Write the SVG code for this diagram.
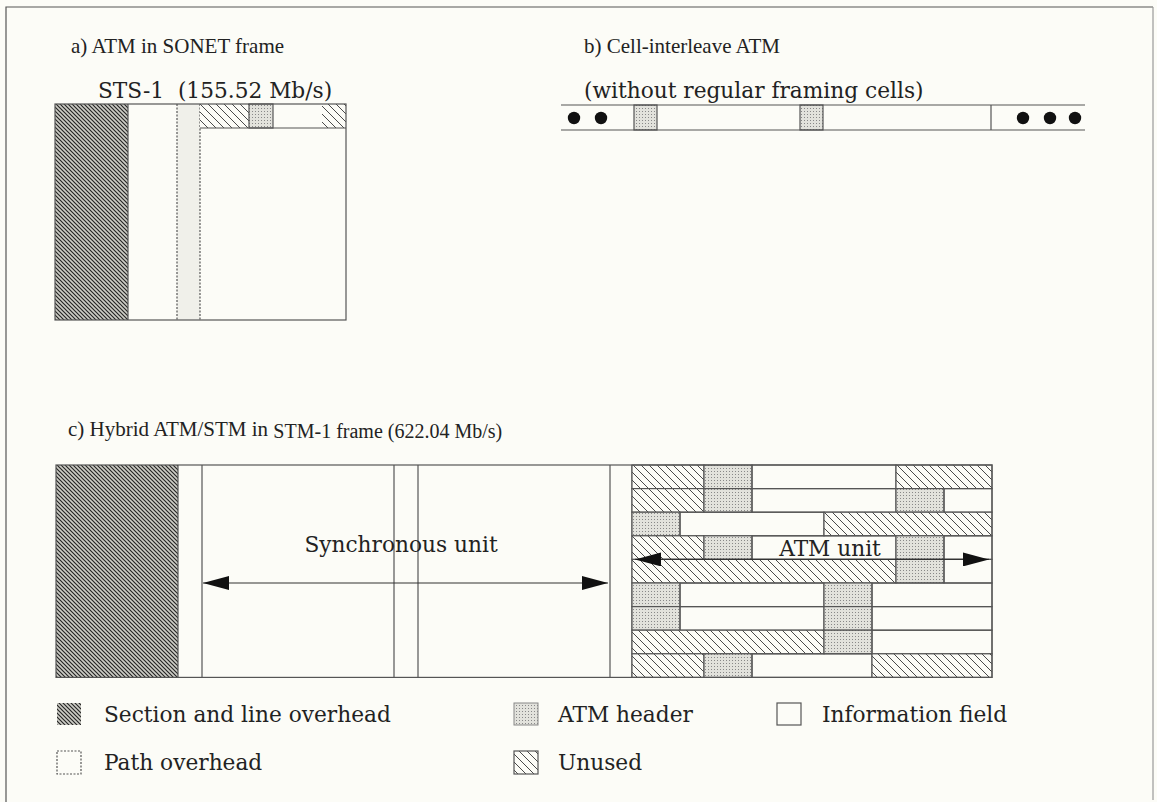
<svg xmlns="http://www.w3.org/2000/svg" width="1157" height="802" viewBox="0 0 1157 802">
<defs>
  <pattern id="sec" width="4" height="4" patternUnits="userSpaceOnUse">
    <rect width="4" height="4" fill="#cdcdc6"/>
    <path d="M0,0 L4,4 M-1,3 L1,5 M3,-1 L5,1" stroke="#242424" stroke-width="1.15"/>
  </pattern>
  <pattern id="unused" width="8" height="8" patternUnits="userSpaceOnUse">
    <rect width="8" height="8" fill="#fcfcf7"/>
    <path d="M0,0 L8,8 M-2,6 L2,10 M6,-2 L10,2" stroke="#4a4a4a" stroke-width="1"/>
  </pattern>
  <pattern id="hdr" width="3" height="3" patternUnits="userSpaceOnUse">
    <rect width="3" height="3" fill="#e2e2dc"/>
    <rect x="0" y="0" width="1" height="1" fill="#888"/>
  </pattern>
  <marker id="ah" markerWidth="26" markerHeight="14" refX="26" refY="7" orient="auto-start-reverse" markerUnits="userSpaceOnUse">
    <path d="M0,0 L26,7 L0,14 z" fill="#111"/>
  </marker>
  <style>
    .t{font-family:"Liberation Serif","Times New Roman",serif;font-size:21px;fill:#222}
    .s{font-family:"DejaVu Serif",serif;font-size:21.7px;fill:#222}
    .lg{font-family:"DejaVu Serif",serif;font-size:21.7px;fill:#222}
    .ln{stroke:#555;stroke-width:1.2;fill:none}
    .bx{stroke:#555;stroke-width:1.2}
    .dash{stroke:#555;stroke-width:1.2;stroke-dasharray:2,1.5;fill:none}
  </style>
</defs>
<rect width="1157" height="802" fill="#fcfcf7"/>
<g id="frame">
  <path d="M6,802 V7 H1153" class="ln"/>
  <path d="M1153,7 V800" stroke="#999" stroke-width="1.2" fill="none"/>
</g>

<g id="part-a">
  <text class="t" x="71" y="53">a) ATM in SONET frame</text>
  <text class="s" x="98" y="98" xml:space="preserve">STS-1  (155.52 Mb/s)</text>
  <rect x="55" y="104" width="73" height="216" fill="url(#sec)"/>
  <rect x="177" y="104" width="23" height="216" fill="#f0f0ea"/>
  <line x1="177" y1="104" x2="177" y2="320" class="dash"/>
  <line x1="200" y1="104" x2="200" y2="320" class="dash"/>
  <rect x="200" y="104" width="49" height="24" fill="url(#unused)"/>
  <rect x="249" y="104" width="24" height="24" fill="url(#hdr)" class="bx"/>
  <rect x="322" y="104" width="24" height="24" fill="url(#unused)"/>
  <line x1="200" y1="128" x2="346" y2="128" class="ln"/>
  <line x1="128" y1="104" x2="128" y2="320" class="ln"/>
  <rect x="55" y="104" width="291" height="216" class="ln"/>
</g>

<g id="part-b">
  <text class="t" x="584" y="53" font-size="20">b) Cell-interleave ATM</text>
  <text class="s" x="584" y="98">(without regular framing cells)</text>
  <rect x="634" y="105" width="23" height="25" fill="url(#hdr)" class="bx"/>
  <rect x="800" y="105" width="23" height="25" fill="url(#hdr)" class="bx"/>
  <line x1="561" y1="105" x2="1085" y2="105" class="ln"/>
  <line x1="561" y1="130" x2="1085" y2="130" class="ln"/>
  <line x1="991" y1="105" x2="991" y2="130" class="ln"/>
  <g fill="#111">
    <circle cx="574" cy="118" r="6.2"/>
    <circle cx="601" cy="118" r="6.2"/>
    <circle cx="1023" cy="118" r="6.2"/>
    <circle cx="1050" cy="118" r="6.2"/>
    <circle cx="1075" cy="118" r="6.2"/>
  </g>
</g>

<g id="part-c">
  <text class="t" x="68" y="436" font-size="20.5">c) Hybrid ATM/STM in <tspan dy="2" font-size="20">STM-1 frame (622.04 Mb/s)</tspan></text>
  <rect x="56" y="465" width="122" height="212.4" fill="url(#sec)"/>
  <g id="sync-unit" class="ln">
    <line x1="178" y1="465" x2="178" y2="677.4"/>
    <line x1="202" y1="465" x2="202" y2="677.4"/>
    <line x1="394" y1="465" x2="394" y2="677.4"/>
    <line x1="418" y1="465" x2="418" y2="677.4"/>
    <line x1="610" y1="465" x2="610" y2="677.4"/>
    <line x1="632" y1="465" x2="632" y2="677.4"/>
  </g>
  <text class="s" x="401" y="552" text-anchor="middle" font-size="23.5">Synchronous unit</text>
  <g id="atm-unit">
    <rect x="632" y="465" width="72" height="23.6" fill="url(#unused)" class="bx"/>
    <rect x="704" y="465" width="48" height="23.6" fill="url(#hdr)" class="bx"/>
    <rect x="752" y="465" width="144" height="23.6" fill="none" class="bx"/>
    <rect x="896" y="465" width="96" height="23.6" fill="url(#unused)" class="bx"/>

    <rect x="632" y="488.6" width="72" height="23.6" fill="url(#unused)" class="bx"/>
    <rect x="704" y="488.6" width="48" height="23.6" fill="url(#hdr)" class="bx"/>
    <rect x="752" y="488.6" width="144" height="23.6" fill="none" class="bx"/>
    <rect x="896" y="488.6" width="48" height="23.6" fill="url(#hdr)" class="bx"/>
    <rect x="944" y="488.6" width="48" height="23.6" fill="none" class="bx"/>

    <rect x="632" y="512.2" width="48" height="23.6" fill="url(#hdr)" class="bx"/>
    <rect x="680" y="512.2" width="144" height="23.6" fill="none" class="bx"/>
    <rect x="824" y="512.2" width="168" height="23.6" fill="url(#unused)" class="bx"/>

    <rect x="632" y="535.8" width="72" height="23.6" fill="url(#unused)" class="bx"/>
    <rect x="704" y="535.8" width="48" height="23.6" fill="url(#hdr)" class="bx"/>
    <rect x="752" y="535.8" width="144" height="23.6" fill="none" class="bx"/>
    <rect x="896" y="535.8" width="48" height="23.6" fill="url(#hdr)" class="bx"/>
    <rect x="944" y="535.8" width="48" height="23.6" fill="none" class="bx"/>

    <rect x="632" y="559.4" width="264" height="23.6" fill="url(#unused)" class="bx"/>
    <rect x="896" y="559.4" width="48" height="23.6" fill="url(#hdr)" class="bx"/>
    <rect x="944" y="559.4" width="48" height="23.6" fill="none" class="bx"/>

    <rect x="632" y="583" width="48" height="23.6" fill="url(#hdr)" class="bx"/>
    <rect x="680" y="583" width="144" height="23.6" fill="none" class="bx"/>
    <rect x="824" y="583" width="48" height="23.6" fill="url(#hdr)" class="bx"/>
    <rect x="872" y="583" width="120" height="23.6" fill="none" class="bx"/>

    <rect x="632" y="606.6" width="48" height="23.6" fill="url(#hdr)" class="bx"/>
    <rect x="680" y="606.6" width="144" height="23.6" fill="none" class="bx"/>
    <rect x="824" y="606.6" width="48" height="23.6" fill="url(#hdr)" class="bx"/>
    <rect x="872" y="606.6" width="120" height="23.6" fill="none" class="bx"/>

    <rect x="632" y="630.2" width="192" height="23.6" fill="url(#unused)" class="bx"/>
    <rect x="824" y="630.2" width="48" height="23.6" fill="url(#hdr)" class="bx"/>
    <rect x="872" y="630.2" width="120" height="23.6" fill="none" class="bx"/>

    <rect x="632" y="653.8" width="72" height="23.6" fill="url(#unused)" class="bx"/>
    <rect x="704" y="653.8" width="48" height="23.6" fill="url(#hdr)" class="bx"/>
    <rect x="752" y="653.8" width="120" height="23.6" fill="none" class="bx"/>
    <rect x="872" y="653.8" width="120" height="23.6" fill="url(#unused)" class="bx"/>
  </g>
  <text class="s" x="830" y="556" text-anchor="middle" font-size="23">ATM unit</text>
  <rect x="56" y="465" width="936" height="212.4" class="ln"/>
</g>

<g id="connectors">
  <line x1="203" y1="583" x2="608" y2="583" stroke="#333" stroke-width="1.2" marker-start="url(#ah)" marker-end="url(#ah)"/>
  <line x1="635" y1="559.4" x2="989" y2="559.4" stroke="#333" stroke-width="1.2" marker-start="url(#ah)" marker-end="url(#ah)"/>
</g>

<g id="legend">
  <g id="leg-section">
    <rect x="57" y="703" width="24" height="22" fill="url(#sec)"/>
    <text class="lg" x="104" y="722">Section and line overhead</text>
  </g>
  <g id="leg-header">
    <rect x="514" y="703" width="24" height="22" fill="url(#hdr)" stroke="#888" stroke-width="1"/>
    <text class="lg" x="558" y="722">ATM header</text>
  </g>
  <g id="leg-info">
    <rect x="777" y="703" width="24" height="22" fill="none" class="bx"/>
    <text class="lg" x="822" y="722">Information field</text>
  </g>
  <g id="leg-path">
    <rect x="57" y="751" width="24" height="23" fill="none" class="dash"/>
    <text class="lg" x="104" y="770">Path overhead</text>
  </g>
  <g id="leg-unused">
    <rect x="514" y="751" width="24" height="23" fill="url(#unused)" class="bx"/>
    <text class="lg" x="558" y="770">Unused</text>
  </g>
</g>
</svg>
